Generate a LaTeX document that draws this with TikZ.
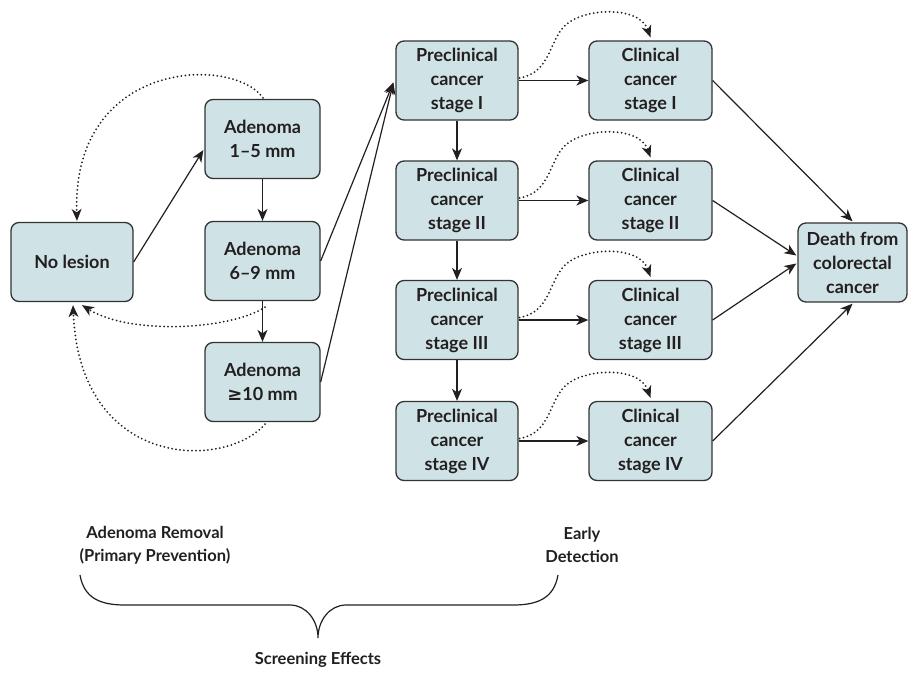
\documentclass[tikz,border=0pt]{standalone}
\usepackage{fontspec}
\setmainfont{Lato}
\newfontfamily\symfont{DejaVu Sans}
\usetikzlibrary{arrows.meta,calc}
\definecolor{boxfill}{HTML}{CFE2E6}
\definecolor{boxline}{HTML}{333333}
\definecolor{ink}{HTML}{231F20}
\begin{document}
\begin{tikzpicture}[x=1pt,y=-1pt,
  box/.style={draw=boxline, fill=boxfill, line width=1.3pt, rounded corners=8pt,
    minimum width=122pt, minimum height=79pt, align=center,
    font=\fontsize{18}{24}\selectfont\bfseries, text=ink, inner sep=0pt},
  arr/.style={draw=ink, line width=1.2pt, -{Stealth[length=12pt,width=10pt,inset=3.5pt]}},
  dotarr/.style={draw=ink, line width=2pt, dash pattern=on 0pt off 4pt,
    line cap=round, -{Stealth[length=12pt,width=10pt,inset=3.5pt,line width=0pt]}},
  lbl/.style={align=center, font=\fontsize{16.5}{23.5}\selectfont\bfseries, text=ink}]
\useasboundingbox (0,0) rectangle (910,678);

% nodes
\node[box] (nl) at (72,262) {No lesion};
\node[box, minimum width=115pt] (a1) at (262.5,139) {Adenoma\\1–5 mm};
\node[box, minimum width=115pt] (a2) at (262.5,261) {Adenoma\\6–9 mm};
\node[box, minimum width=115pt] (a3) at (262.5,382) {Adenoma\\{\symfont\bfseries ≥}10 mm};

\node[box] (p1) at (457,80.5) {Preclinical\\cancer\\stage I};
\node[box] (p2) at (457,200.5) {Preclinical\\cancer\\stage II};
\node[box] (p3) at (457,320) {Preclinical\\cancer\\stage III};
\node[box] (p4) at (457,441) {Preclinical\\cancer\\stage IV};

\node[box, minimum width=123pt] (c1) at (650.5,80.5) {Clinical\\cancer\\stage I};
\node[box, minimum width=123pt] (c2) at (650.5,200.5) {Clinical\\cancer\\stage II};
\node[box, minimum width=123pt] (c3) at (650.5,320) {Clinical\\cancer\\stage III};
\node[box, minimum width=123pt] (c4) at (650.5,441) {Clinical\\cancer\\stage IV};

\node[box, minimum width=109pt] (de) at (852.5,262.5) {Death from\\colorectal\\cancer};

% solid connectors
\draw[arr] (nl.east) -- ($(a1.west)+(-1,11)$);
\draw[arr] (a1.south) -- (a2.north);
\draw[arr] (a2.south) -- (a3.north);
\draw[arr] (a2.east) -- ($(p1.west)+(-2,2)$);
\draw[arr] (a3.east) -- ($(p1.west)+(-2,2)$);
\foreach \i/\j in {1/2,2/3,3/4} \draw[arr] (p\i.south) -- (p\j.north);
\foreach \i in {1,2,3,4} \draw[arr] (p\i.east) -- (c\i.west);
\draw[arr] (c1.east) -- ($(de.north)+(0,-1)$);
\draw[arr] (c2.east) -- ($(de.west)+(-1,-7)$);
\draw[arr] (c3.east) -- ($(de.west)+(-1,1)$);
\draw[arr] (c4.east) -- ($(de.south)+(0,1)$);

% dotted connectors (left)
\draw[dotarr] ($(a1.north)+(0.5,-1)$) .. controls (232,55) and (72,60) .. ($(nl.north)+(5,-1)$);
\draw[dotarr] ($(a2.south)+(2.5,6)$) .. controls (230,330) and (130,335) .. ($(nl.south)+(10,3)$);
\draw[dotarr] ($(a3.south)+(2.5,2)$) .. controls (225,470) and (80,470) .. ($(nl.south)+(1,3)$);

% dotted connectors (preclinical to clinical)
\foreach \i in {1,2,3,4}
  \draw[dotarr] ($(p\i.east)+(1,-2.5)$) .. controls +(29,-5) and +(-14,17) .. ++(43,-50)
     .. controls +(16,-20) and +(-12,-33) .. ($(c\i.north)+(0,-3)$);

% bottom labels
\node[lbl] (rem) at (155,545) {Adenoma Removal\\(Primary Prevention)};
\node[lbl] (det) at (582,545) {Early\\Detection};
\node[lbl] (scr) at (318,660) {Screening Effects};

% brace
\draw[draw=ink, line width=1.2pt] (80,575) .. controls (84,598) and (100,605) .. (125,605)
  -- (290,605) .. controls (306,605) and (318,620) .. (318,638)
  .. controls (318,620) and (330,605) .. (346,605) -- (513,605)
  .. controls (538,605) and (554,598) .. (558,575);
\end{tikzpicture}
\end{document}
